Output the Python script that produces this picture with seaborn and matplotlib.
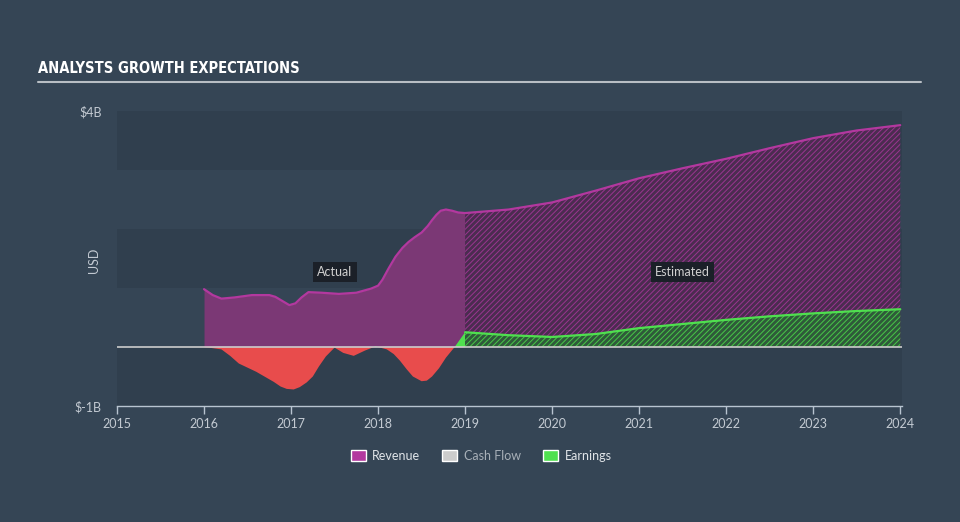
import matplotlib
matplotlib.use("Agg")
import matplotlib.pyplot as plt
from matplotlib.patches import Patch
from matplotlib import font_manager
import numpy as np
import pandas as pd
import seaborn as sns

# ---- data (USD billions) ----
rev_act_x = [2016.0, 2016.1, 2016.2, 2016.35, 2016.55, 2016.75, 2016.82, 2016.9, 2016.98, 2017.05,
             2017.12, 2017.2, 2017.35, 2017.55, 2017.75, 2017.92, 2018.0, 2018.05, 2018.12, 2018.2,
             2018.28, 2018.35, 2018.42, 2018.5, 2018.57, 2018.62, 2018.67, 2018.72, 2018.78, 2018.85,
             2018.92, 2019.0]
rev_act_y = [0.98, 0.88, 0.82, 0.84, 0.88, 0.88, 0.85, 0.78, 0.71, 0.74,
             0.84, 0.93, 0.92, 0.90, 0.92, 0.99, 1.04, 1.14, 1.33, 1.53,
             1.68, 1.78, 1.86, 1.94, 2.05, 2.15, 2.24, 2.31, 2.33, 2.31,
             2.28, 2.27]
rev_est_x = [2019.0, 2019.5, 2020.0, 2020.5, 2021.0, 2021.5, 2022.0, 2022.5, 2023.0, 2023.5, 2024.0]
rev_est_y = [2.27, 2.33, 2.45, 2.65, 2.86, 3.03, 3.19, 3.37, 3.54, 3.67, 3.76]

earn_act_x = [2016.0, 2016.2, 2016.3, 2016.4, 2016.6, 2016.8, 2016.88, 2016.95, 2017.03, 2017.1,
              2017.18, 2017.25, 2017.32, 2017.4, 2017.5, 2017.6, 2017.72, 2017.85, 2017.97, 2018.1,
              2018.18, 2018.25, 2018.33, 2018.4, 2018.5, 2018.56, 2018.62, 2018.7, 2018.78, 2018.88,
              2019.0]
earn_act_y = [0.0, -0.04, -0.15, -0.28, -0.42, -0.59, -0.67, -0.71, -0.72, -0.68,
              -0.60, -0.50, -0.33, -0.16, -0.01, -0.10, -0.15, -0.06, 0.01, -0.04,
              -0.12, -0.23, -0.38, -0.50, -0.58, -0.57, -0.50, -0.36, -0.18, 0.0,
              0.25]
earn_est_x = [2019.0, 2019.5, 2020.0, 2020.5, 2021.0, 2021.5, 2022.0, 2022.5, 2023.0, 2023.5, 2024.0]
earn_est_y = [0.25, 0.20, 0.17, 0.22, 0.32, 0.39, 0.46, 0.52, 0.57, 0.61, 0.64]

x_ticks = [2015, 2016, 2017, 2018, 2019, 2020, 2021, 2022, 2023, 2024]
y_ticks = [-1, 4]
y_tick_labels = ["$-1B", "$4B"]
legend_labels = ["Revenue", "Cash Flow", "Earnings"]

# ---- style ----
BG = "#354555"
DARK = "#303f4e"
TXT = "#c3cad2"
REV_LINE = "#b3389f"
REV_HATCH = "#9a3590"
REV_FILL = "#7b3875"
REV_HATCH_FACE = "#4b2c50"
EARN_GREEN = "#4fe04f"
EARN_RED = "#e84c4c"
CASH = "#cccccc"

sns.set_theme(style="dark")
names = {f.name for f in font_manager.fontManager.ttflist}
body_font = "Lato" if "Lato" in names else "DejaVu Sans"
plt.rcParams["font.family"] = [body_font, "DejaVu Sans"]
plt.rcParams["hatch.linewidth"] = 0.7

fig = plt.figure(figsize=(9.6, 5.22), dpi=100, facecolor=BG)
ax = fig.add_axes([117 / 960, 1 - 406 / 522, (902 - 117) / 960, (406 - 111) / 522])
ax.set_facecolor(BG)

# alternating bands
for lo, hi, c in [(-1, 0, DARK), (0, 1, BG), (1, 2, DARK), (2, 3, BG), (3, 4, DARK)]:
    ax.axhspan(lo, hi, color=c, lw=0, zorder=0)

ra = pd.DataFrame({"year": rev_act_x, "value": rev_act_y})
re_ = pd.DataFrame({"year": rev_est_x, "value": rev_est_y})
ea = pd.DataFrame({"year": earn_act_x, "value": earn_act_y})
ee = pd.DataFrame({"year": earn_est_x, "value": earn_est_y})

# revenue actual
ax.fill_between(ra["year"], 0, ra["value"], color=REV_FILL, lw=0, zorder=2)
# revenue estimated hatched
ax.fill_between(re_["year"], 0, re_["value"], facecolor=REV_HATCH_FACE, edgecolor=REV_HATCH,
                hatch="//////", lw=0, zorder=2)
# earnings actual
eav = np.array(earn_act_y)
ax.fill_between(ea["year"], 0, eav, where=eav <= 0, interpolate=True, color=EARN_RED, lw=0, zorder=3)
ax.fill_between(ea["year"], 0, eav, where=eav >= 0, interpolate=True, color=EARN_GREEN, lw=0, zorder=3)
# earnings estimated hatched
ax.fill_between(ee["year"], 0, ee["value"], facecolor="#2f5a3a", edgecolor="#48c848",
                hatch="//////", lw=0, zorder=3)

sns.lineplot(data=ra, x="year", y="value", ax=ax, color=REV_LINE, lw=1.6, zorder=4)
sns.lineplot(data=re_, x="year", y="value", ax=ax, color=REV_LINE, lw=1.6, zorder=4)
sns.lineplot(data=ee, x="year", y="value", ax=ax, color=EARN_GREEN, lw=1.6, zorder=4)

ax.axhline(0, color=CASH, lw=1.2, zorder=5)

ax.set_xlim(2015, 2024.02)
ax.set_ylim(-1, 4)
ax.set_xticks(x_ticks)
ax.set_xticklabels([str(t) for t in x_ticks])
ax.set_yticks(y_ticks)
ax.set_yticklabels(y_tick_labels)
ax.set_xlabel("")
ax.set_ylabel("USD", color=TXT, fontsize=9)
ax.yaxis.set_label_coords((100 - 117) / 785, (406 - 260) / 295)
ax.tick_params(axis="x", colors=TXT, labelsize=9, length=6, width=1, direction="out", pad=3,
               bottom=True)
ax.tick_params(axis="x", color="#b8c4d0")
ax.tick_params(axis="y", colors=TXT, labelsize=9, length=0, pad=11)
for s in ["top", "right", "left"]:
    ax.spines[s].set_visible(False)
ax.spines["bottom"].set_color("#b8c4d0")
ax.spines["bottom"].set_linewidth(1)
ax.grid(False)

# labels
box = dict(boxstyle="square,pad=0.35", facecolor="#1b2028", edgecolor="none")
ax.text(2017.5, 1.27, "Actual", ha="center", va="center", color="#d0d0d0", fontsize=9, bbox=box, zorder=6)
ax.text(2021.5, 1.27, "Estimated", ha="center", va="center", color="#d0d0d0", fontsize=9, bbox=box, zorder=6)

# title and rule
fig.text(38 / 960, 1 - 76 / 522, "ANALYSTS GROWTH EXPECTATIONS", ha="left", va="bottom",
         color="white", fontsize=10.5, fontweight="bold", fontstretch="condensed",
         family=["DejaVu Sans"])
fig.add_artist(plt.Line2D([38 / 960, 921 / 960], [1 - 82 / 522, 1 - 82 / 522],
                          transform=fig.transFigure, color="#b8bec4", lw=1.5))

handles = [Patch(facecolor=REV_LINE), Patch(facecolor=CASH), Patch(facecolor=EARN_GREEN)]
leg = fig.legend(handles, legend_labels, loc="center", bbox_to_anchor=(481 / 960, 1 - 456 / 522),
                 ncol=3, frameon=False, fontsize=9, handlelength=1.2, handleheight=1.0,
                 columnspacing=1.8, handletextpad=0.5)
for t, c in zip(leg.get_texts(), ["#e0e4e8", "#a8b0b8", "#e0e4e8"]):
    t.set_color(c)

fig.savefig("out.png", dpi=100, facecolor=BG)
